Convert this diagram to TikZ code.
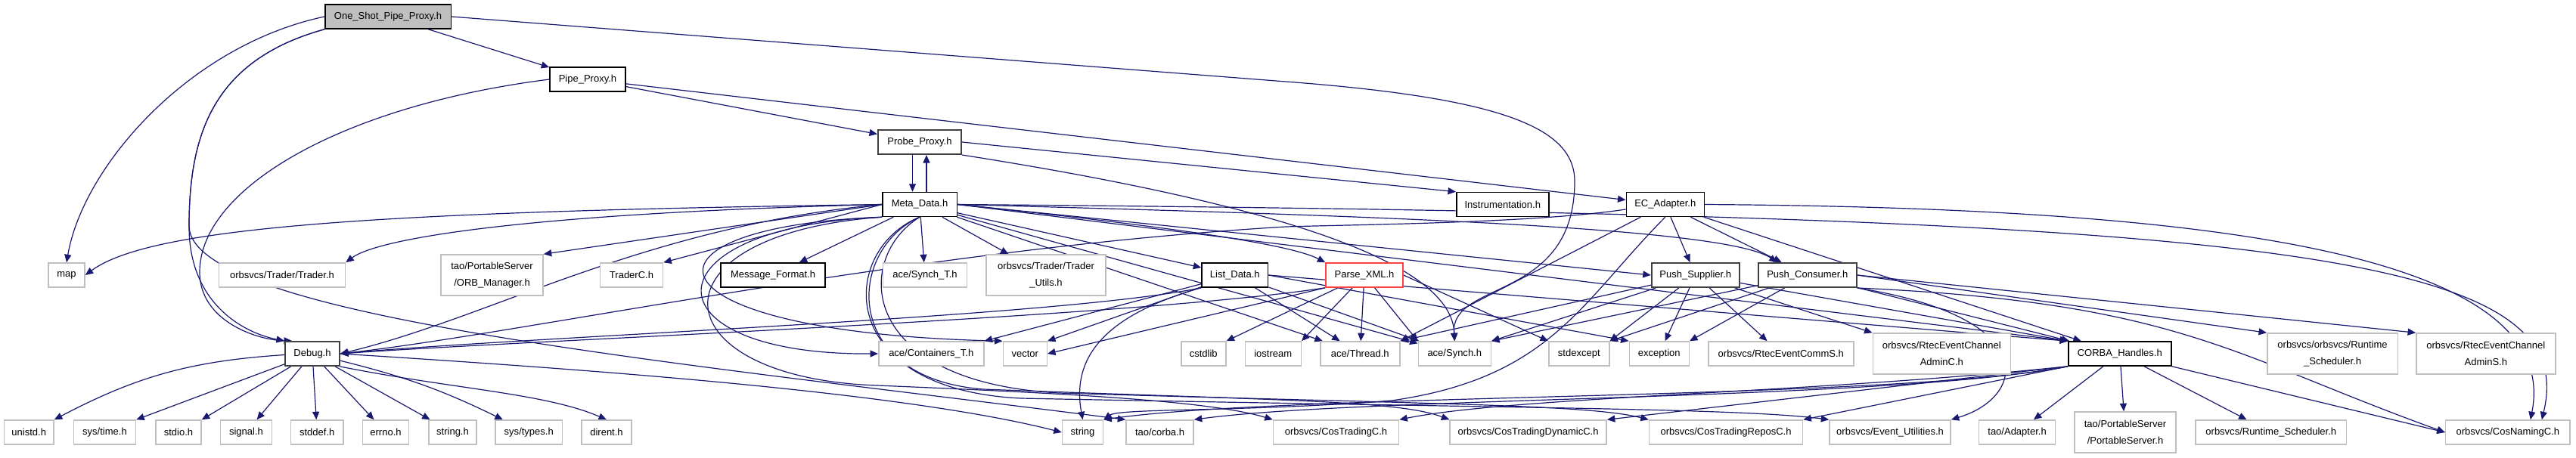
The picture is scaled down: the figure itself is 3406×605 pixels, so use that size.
\documentclass[tikz,border=0pt]{standalone}
\usepackage{fontspec}
\setmainfont{Liberation Sans}
\usetikzlibrary{arrows.meta,positioning,backgrounds}
\definecolor{edgeblue}{HTML}{191970}
\definecolor{extgray}{HTML}{BFBFBF}
\definecolor{rootgray}{HTML}{BFBFBF}
\definecolor{boxdark}{HTML}{404040}
\definecolor{badred}{HTML}{FF4040}
\tikzset{
  hdr/.style={draw=black,fill=white,line width=0.3mm,minimum height=6.4mm,
    inner xsep=1mm,inner ysep=0.5mm,align=center,font=\fontsize{7.4}{12.3}\selectfont},
  doc/.style={hdr},
  docgray/.style={hdr,draw=boxdark,line width=0.4mm},
  ext/.style={hdr,draw=extgray},
  root/.style={hdr,fill=rootgray},
  broken/.style={hdr,draw=badred},
  two/.style={minimum height=10.8mm},
  dep/.style={-{Triangle[length=2.1mm,width=1.8mm]},draw=edgeblue,line width=0.24mm}
}
\begin{document}
\begin{tikzpicture}[x=0.2mm,y=-0.2mm,node distance=4.8mm]
  \useasboundingbox (0,0) rectangle (3406,605);
  % upper part
  \node[root,minimum width=33.3mm] (osp) at (513,22) {One\_Shot\_Pipe\_Proxy.h};
  \node[doc,minimum width=20mm] (pipe) at (777,105) {Pipe\_Proxy.h};
  \node[docgray,minimum width=22mm] (probe) at (1216,188) {Probe\_Proxy.h};
  \node[doc,minimum width=19.7mm] (meta) at (1216,270.5) {Meta\_Data.h};
  \node[doc,minimum width=24.4mm,right=131.8mm of meta] (instr) {Instrumentation.h};
  \node[doc,minimum width=20.6mm,right=20.2mm of instr] (ecad) {EC\_Adapter.h};
  % row of direct includes of Meta_Data.h
  \node[ext,minimum width=9.6mm] (map) at (88,364) {map};
  \node[ext,minimum width=33.4mm,right=35.2mm of map] (trader) {orbsvcs/Trader/Trader.h};
  \node[ext,two,minimum width=27mm,right=25mm of trader] (orbmgr) {tao/PortableServer\\/ORB\_Manager.h};
  \node[ext,minimum width=16.6mm,right=14.8mm of orbmgr] (traderc) {TraderC.h};
  \node[doc,minimum width=27.6mm,right=15mm of traderc] (msgfmt) {Message\_Format.h};
  \node[ext,minimum width=22.2mm,right=15mm of msgfmt] (syncht) {ace/Synch\_T.h};
  \node[ext,two,minimum width=31.6mm,right=of syncht] (tutils) {orbsvcs/Trader/Trader\\\_Utils.h};
  \node[doc,minimum width=17.5mm,right=25.1mm of tutils] (listd) {List\_Data.h};
  \node[broken,minimum width=20.4mm,right=15mm of listd] (parsexml) {Parse\_XML.h};
  \node[docgray,minimum width=23.2mm,right=65.4mm of parsexml] (pushsup) {Push\_Supplier.h};
  \node[docgray,minimum width=26mm,right=4.6mm of pushsup] (pushcon) {Push\_Consumer.h};
  % second row
  \node[docgray,minimum width=14.4mm] (debug) at (413,468) {Debug.h};
  \node[ext,minimum width=27.8mm,right=142.2mm of debug] (contt) {ace/Containers\_T.h};
  \node[ext,minimum width=11.6mm,right=of contt] (vector) {vector};
  \node[ext,minimum width=11.8mm,right=35.2mm of vector] (cstdlib) {cstdlib};
  \node[ext,minimum width=14.8mm,right=of cstdlib] (iostream) {iostream};
  \node[ext,minimum width=21mm,right=of iostream] (thread) {ace/Thread.h};
  \node[ext,minimum width=19.2mm,right=4.6mm of thread] (synch) {ace/Synch.h};
  \node[ext,minimum width=16mm,right=15mm of synch] (stdexc) {stdexcept};
  \node[ext,minimum width=15.8mm,right=5mm of stdexc] (excpt) {exception};
  \node[ext,minimum width=38.4mm,right=of excpt] (rtecs) {orbsvcs/RtecEventCommS.h};
  \node[ext,two,minimum width=36.4mm,right=of rtecs] (adminc) {orbsvcs/RtecEventChannel\\AdminC.h};
  \node[doc,minimum width=27.2mm,right=15mm of adminc] (corbah) {CORBA\_Handles.h};
  \node[ext,two,minimum width=34.5mm,right=25.1mm of corbah] (rsched2) {orbsvcs/orbsvcs/Runtime\\\_Scheduler.h};
  \node[ext,two,minimum width=36.8mm,right=4.6mm of rsched2] (admins) {orbsvcs/RtecEventChannel\\AdminS.h};
  % bottom row
  \node[ext,minimum width=13.1mm] (unistd) at (38.25,572) {unistd.h};
  \node[ext,minimum width=16.4mm,right=5mm of unistd] (systime) {sys/time.h};
  \node[ext,minimum width=12mm,right=5mm of systime] (stdio) {stdio.h};
  \node[ext,minimum width=13.6mm,right=of stdio] (signal) {signal.h};
  \node[ext,minimum width=13.9mm,right=4.7mm of signal] (stddef) {stddef.h};
  \node[ext,minimum width=12.2mm,right=of stddef] (errno) {errno.h};
  \node[ext,minimum width=12.6mm,right=5mm of errno] (stringh) {string.h};
  \node[ext,minimum width=17.7mm,right=4.7mm of stringh] (systypes) {sys/types.h};
  \node[ext,minimum width=13.2mm,right=of systypes] (dirent) {dirent.h};
  \node[ext,minimum width=10.8mm,right=113.6mm of dirent] (string) {string};
  \node[ext,minimum width=17.8mm,right=5.8mm of string] (corba) {tao/corba.h};
  \node[ext,minimum width=33.2mm,right=20.8mm of corba] (costc) {orbsvcs/CosTradingC.h};
  \node[ext,minimum width=41.4mm,right=13.2mm of costc] (costdc) {orbsvcs/CosTradingDynamicC.h};
  \node[ext,minimum width=40.6mm,right=11mm of costdc] (costrc) {orbsvcs/CosTradingReposC.h};
  \node[ext,minimum width=32mm,right=6.8mm of costrc] (evutil) {orbsvcs/Event\_Utilities.h};
  \node[ext,minimum width=20.2mm,right=7.2mm of evutil] (adapter) {tao/Adapter.h};
  \node[ext,two,minimum width=26.8mm,right=of adapter] (portsrv) {tao/PortableServer\\/PortableServer.h};
  \node[ext,minimum width=39.9mm,right=4.9mm of portsrv] (rsched) {orbsvcs/Runtime\_Scheduler.h};
  \node[ext,minimum width=32.9mm,right=25.9mm of rsched] (cosnam) {orbsvcs/CosNamingC.h};
  \begin{pgfonlayer}{background}
  % One_Shot_Pipe_Proxy.h
  \draw[dep] (osp) -- (pipe);
  \draw[dep] (osp.west) .. controls (250,60) and (110,220) .. (map.north);
  \draw[dep] (osp.south west) .. controls (280,80) and (250,180) .. (250,300) .. controls (250,400) and (320,440) .. (debug.north west);
  \draw[dep] (osp.south west) .. controls (280,80) and (250,180) .. (250,300) .. controls (255,420) and (900,480) .. (corba.north west);
  \draw[dep] (osp.east) -- (1700,108) .. controls (1990,130) and (2082,170) .. (2082,240) .. controls (2082,400) and (1917,370) .. (synch.north);
  % Pipe_Proxy.h
  \draw[dep] (pipe) -- (probe);
  \draw[dep] (pipe.west) .. controls (450,140) and (264,250) .. (264,360) .. controls (264,425) and (340,450) .. ([xshift=2mm]debug.north west);
  \draw[dep] (pipe) -- (ecad);
  % Probe_Proxy.h
  \draw[dep] ([xshift=-1.9mm]probe.south) -- ([xshift=-1.9mm]meta.north);
  \draw[dep] (probe.east) -- (instr.north west);
  \draw[dep] (probe.south east) .. controls (1750,280) and (1920,360) .. (synch.north);
  % Meta_Data.h
  \draw[dep] ([xshift=1.8mm]meta.north) -- ([xshift=1.8mm]probe.south);
  \draw[dep] (meta.west) .. controls (500,280) and (200,300) .. (map.east);
  \draw[dep] (meta.west) .. controls (700,282) and (500,315) .. (trader.north east);
  \draw[dep] (meta.west) -- (orbmgr.north east);
  \draw[dep] (meta.west) -- (traderc.north east);
  \draw[dep] (meta) -- (msgfmt);
  \draw[dep] (meta) -- (syncht);
  \draw[dep] (meta) -- (tutils);
  \draw[dep] (meta) -- (listd);
  \draw[dep] (meta.east) .. controls (1500,295) and (1700,320) .. (parsexml.north west);
  \draw[dep] (meta.east) -- (pushsup.west);
  \draw[dep] (meta.east) .. controls (1800,285) and (2280,300) .. ([xshift=-8mm]pushcon.north);
  \draw[dep] (meta.west) .. controls (850,300) and (650,420) .. (debug.east);
  \draw[dep] (meta.south west) .. controls (850,300) and (850,470) .. (contt.west);
  \draw[dep] (meta.south west) .. controls (820,300) and (840,440) .. (vector.north west);
  \draw[dep] (meta) -- (thread);
  \draw[dep] (meta) -- (synch);
  \draw[dep] (meta.east) -- (corbah.north west);
  \draw[dep] (meta.east) .. controls (3000,285) and (3415,330) .. ([xshift=9mm]cosnam.north);
  \draw[dep] (meta.south west) .. controls (850,310) and (870,500) .. (1160,510) .. controls (1400,520) and (1600,530) .. (costc.north west);
  \draw[dep] (meta.south) .. controls (1120,330) and (1110,500) .. (1300,515) .. controls (1700,530) and (1850,530) .. (costdc.north west);
  \draw[dep] (meta.south) .. controls (1130,340) and (1130,505) .. (1400,520) .. controls (1900,535) and (2100,535) .. (costrc.north west);
  \draw[dep] (meta.south) .. controls (1110,330) and (1100,515) .. (1350,527) .. controls (2000,540) and (2300,540) .. (evutil.north west);
  % List_Data.h
  \draw[dep] (listd.south west) .. controls (1400,420) and (700,445) .. (debug.east);
  \draw[dep] (listd) -- (contt.north east);
  \draw[dep] (listd) -- (vector.north east);
  \draw[dep] (listd) -- (thread);
  \draw[dep] (listd) -- (synch);
  \draw[dep] (listd.south west) .. controls (1450,420) and (1418,480) .. (string.north);
  \draw[dep] (listd.east) -- (excpt.north west);
  \draw[dep] (listd.east) -- (corbah.north west);
  % Parse_XML.h
  \draw[dep] (parsexml.south west) .. controls (1500,420) and (700,450) .. (debug.east);
  \draw[dep] (parsexml.south west) -- (vector.east);
  \draw[dep] (parsexml) -- (cstdlib.north east);
  \draw[dep] (parsexml) -- (iostream.north east);
  \draw[dep] (parsexml) -- (thread);
  \draw[dep] (parsexml) -- (synch.north west);
  \draw[dep] (parsexml.east) -- (stdexc.north west);
  % EC_Adapter.h
  \draw[dep] (ecad) -- (pushsup);
  \draw[dep] (ecad) -- (pushcon);
  \draw[dep] ([yshift=-1.3mm]ecad.west) .. controls (2030,295) and (1800,297) .. (1700,300) .. controls (1200,330) and (700,440) .. (debug.east);
  \draw[dep] (ecad) -- (thread.north east);
  \draw[dep] (ecad.south) .. controls (2090,400) and (2050,500) .. (1840,530) .. controls (1650,545) and (1480,540) .. (string.north east);
  \draw[dep] (ecad) -- (corbah);
  \draw[dep] (ecad.east) .. controls (2900,275) and (3390,330) .. ([xshift=6mm]cosnam.north);
  % Push_Supplier.h
  \draw[dep] (pushsup) -- (thread.north east);
  \draw[dep] (pushsup) -- (synch.north east);
  \draw[dep] (pushsup) -- (stdexc.north east);
  \draw[dep] (pushsup) -- (excpt);
  \draw[dep] (pushsup) -- (rtecs);
  \draw[dep] (pushsup) -- (adminc.north west);
  \draw[dep] (pushsup) -- (corbah.north west);
  % Push_Consumer.h
  \draw[dep] (pushcon) -- (synch.north east);
  \draw[dep] (pushcon) -- (stdexc.north east);
  \draw[dep] (pushcon) -- (excpt.north east);
  \draw[dep] (pushcon) -- (corbah);
  \draw[dep] (pushcon.east) -- (rsched2.north west);
  \draw[dep] (pushcon.east) -- (admins.north west);
  \draw[dep] (pushcon.south east) .. controls (2700,420) and (2680,525) .. (evutil.north east);
  \draw[dep] (pushcon.south east) .. controls (2880,400) and (2950,470) .. (cosnam.west);
  % CORBA_Handles.h
  \draw[dep] (corbah) -- (adapter);
  \draw[dep] (corbah) -- (portsrv);
  \draw[dep] (corbah) -- (rsched);
  \draw[dep] (corbah.south east) -- (cosnam.west);
  \draw[dep] (corbah.south west) .. controls (2500,530) and (1700,520) .. (string.north east);
  \draw[dep] (corbah.south west) .. controls (2500,530) and (1800,525) .. (corba.north east);
  \draw[dep] (corbah.south west) .. controls (2400,520) and (2000,525) .. (costc.north east);
  \draw[dep] (corbah.south west) -- (costdc.north east);
  \draw[dep] (corbah.south west) -- (costrc.north east);
  % Debug.h
  \draw[dep] (debug) to[bend right=12] (unistd.north east);
  \draw[dep] (debug) -- (systime.north east);
  \draw[dep] (debug) -- (stdio.north east);
  \draw[dep] (debug) -- (signal);
  \draw[dep] (debug) -- (stddef);
  \draw[dep] (debug) -- (errno);
  \draw[dep] (debug) -- (stringh);
  \draw[dep] (debug) to[bend left=6] (systypes);
  \draw[dep] (debug.south east) .. controls (600,515) and (720,520) .. (dirent.north);
  \draw[dep] (debug.east) .. controls (800,490) and (1200,520) .. (string.west);
  \end{pgfonlayer}
\end{tikzpicture}
\end{document}
